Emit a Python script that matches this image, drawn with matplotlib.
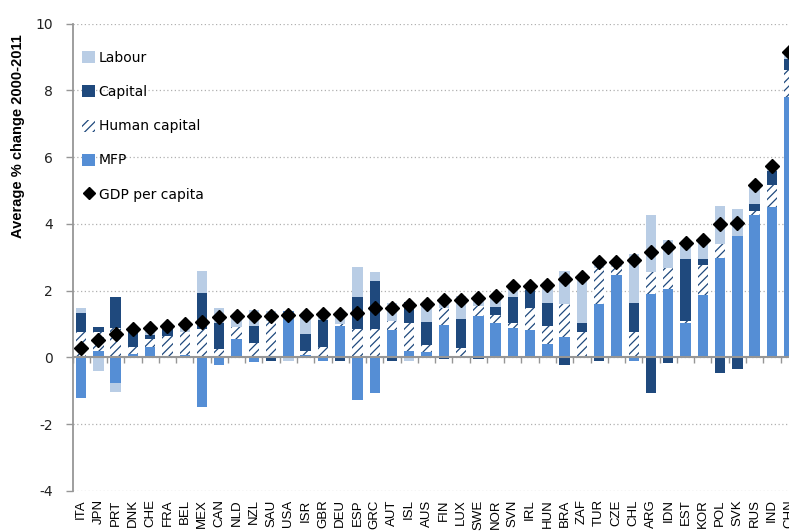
import numpy as np
import matplotlib
matplotlib.use('Agg')
import matplotlib.pyplot as plt
from matplotlib.lines import Line2D

countries = ['ITA', 'JPN', 'PRT', 'DNK', 'CHE', 'FRA', 'BEL', 'MEX', 'CAN', 'NLD',
             'NZL', 'SAU', 'USA', 'ISR', 'GBR', 'DEU', 'ESP', 'GRC', 'AUT', 'ISL',
             'AUS', 'FIN', 'LUX', 'SWE', 'NOR', 'SVN', 'IRL', 'HUN', 'BRA', 'ZAF',
             'TUR', 'CZE', 'CHL', 'ARG', 'IDN', 'EST', 'KOR', 'POL', 'SVK', 'RUS',
             'IND', 'CHN']

# components of GDP per capita growth, avg % change 2000-2011
mfp = [-1.20, 0.20, -0.77, 0.09, 0.32, 0.02, 0.07, -1.47, -0.23, 0.56,
       -0.15, 0.00, 1.38, 0.08, -0.12, 0.93, -1.27, -1.07, 0.83, 0.18,
       0.15, 0.96, -0.03, 1.23, 1.02, 0.89, 0.81, 0.40, 0.61, 0.00,
       1.60, 2.48, -0.10, 1.90, 2.05, 1.02, 1.86, 2.97, 3.64, 4.28,
       4.49, 7.80]
human_capital = [0.75, 0.55, 0.87, 0.23, 0.23, 0.63, 0.70, 0.85, 0.26, 0.35,
                 0.44, 1.10, 0.00, 0.12, 0.32, 0.06, 0.86, 0.86, 0.25, 0.84,
                 0.22, 0.53, 0.29, 0.31, 0.25, 0.13, 0.66, 0.53, 1.00, 0.76,
                 1.07, 0.24, 0.76, 0.65, 0.64, 0.07, 0.91, 0.43, 0.00, 0.12,
                 0.66, 0.80]
capital = [0.57, 0.17, 0.93, 0.46, 0.12, 0.20, 0.00, 1.07, 0.77, 0.00,
           0.49, -0.12, 0.00, 0.51, 0.80, -0.12, 0.94, 1.43, -0.12, 0.65,
           0.70, -0.05, 0.86, -0.05, 0.25, 0.78, 0.56, 0.71, -0.23, 0.26,
           -0.10, 0.00, 0.87, -1.06, -0.18, 1.85, 0.17, -0.48, -0.35, 0.20,
           0.42, 0.35]
labour = [0.16, -0.40, -0.27, 0.08, 0.22, 0.10, 0.20, 0.68, 0.44, 0.35,
          0.49, 0.30, -0.10, 0.55, 0.23, 0.28, 0.91, 0.26, 0.55, -0.12,
          0.47, 0.15, 0.70, 0.25, 0.25, 0.25, 0.08, 0.43, 0.99, 1.35,
          0.20, 0.12, 1.47, 1.73, 0.82, 0.40, 0.50, 1.12, 0.79, 0.55,
          0.10, 0.15]
gdp_per_capita = [0.27, 0.52, 0.70, 0.85, 0.89, 0.94, 0.99, 1.07, 1.20, 1.23,
                  1.24, 1.25, 1.27, 1.28, 1.29, 1.30, 1.33, 1.49, 1.49, 1.57,
                  1.59, 1.71, 1.71, 1.79, 1.83, 2.13, 2.13, 2.16, 2.35, 2.41,
                  2.87, 2.87, 2.92, 3.17, 3.30, 3.42, 3.53, 4.00, 4.04, 5.17,
                  5.74, 9.15]

LIGHT = '#b9cde5'
NAVY = '#1f497d'
MID = '#558ed5'
GREY = '#969696'

plt.rcParams['hatch.linewidth'] = 0.9
plt.rcParams['axes.unicode_minus'] = False

fig = plt.figure(figsize=(7.89, 5.31), dpi=100)
ax = fig.add_axes([72.5 / 789, 40 / 531, 725.3 / 789, 467.5 / 531])

x = np.arange(len(countries))
pos = np.zeros(len(countries))
neg = np.zeros(len(countries))
series = [
    (mfp, 'MFP', dict(color=MID, linewidth=0)),
    (human_capital, 'Human capital', dict(facecolor='white', edgecolor=NAVY, hatch='////', linewidth=0)),
    (capital, 'Capital', dict(color=NAVY, linewidth=0)),
    (labour, 'Labour', dict(color=LIGHT, linewidth=0)),
]
handles = {}
for vals, name, style in series:
    vals = np.array(vals)
    bottom = np.where(vals >= 0, pos, neg)
    handles[name] = ax.bar(x, vals, width=0.6, bottom=bottom, zorder=2, **style)
    pos += np.clip(vals, 0, None)
    neg += np.clip(vals, None, 0)

ax.plot(x, gdp_per_capita, ls='none', marker='D', ms=7, color='black', zorder=6)
gdp_handle = Line2D([], [], ls='none', marker='D', ms=6, color='black')

ax.set_xlim(-0.5, len(countries) - 0.5)
ax.set_ylim(-4, 10)
ax.set_yticks(range(-4, 11, 2))
ax.yaxis.grid(True, linestyle=(0, (1, 2)), color='#b0b0b0', linewidth=0.9)
ax.set_axisbelow(True)

for s in ['top', 'right', 'bottom']:
    ax.spines[s].set_visible(False)
ax.spines['left'].set_color(GREY)
ax.spines['left'].set_linewidth(1.3)
ax.tick_params(axis='y', direction='out', length=5, width=1, color=GREY,
               pad=9, labelsize=10, labelcolor='#222222')

ax.set_xticks(x)
ax.set_xticklabels(countries, rotation=90, fontsize=9.5, family='Liberation Sans')
ax.tick_params(axis='x', length=0, pad=6)

# category axis crossing at zero, ticks between categories
sec = ax.secondary_xaxis(4 / 14)
sec.set_xticks(np.arange(-0.5, len(countries), 1))
sec.set_xticklabels([])
sec.tick_params(direction='out', length=4, width=1, color=GREY)
sec.spines['bottom'].set_color(GREY)
sec.spines['bottom'].set_linewidth(1.5)
sec.set_zorder(4)

leg = ax.legend([handles['Labour'], handles['Capital'], handles['Human capital'],
                 handles['MFP'], gdp_handle],
                ['Labour', 'Capital', 'Human capital', 'MFP', 'GDP per capita'],
                loc='upper left', bbox_to_anchor=(0.013, 0.941), frameon=False,
                borderpad=0, borderaxespad=0, labelspacing=1.45,
                handlelength=0.95, handleheight=0.95, handletextpad=0.25,
                fontsize=10)

fig.text(18 / 789, 1 - 136 / 531, 'Average % change 2000-2011', rotation=90,
         fontweight='bold', fontsize=10.5, family='Liberation Sans',
         ha='center', va='center')

fig.savefig('out.png', dpi=100)
